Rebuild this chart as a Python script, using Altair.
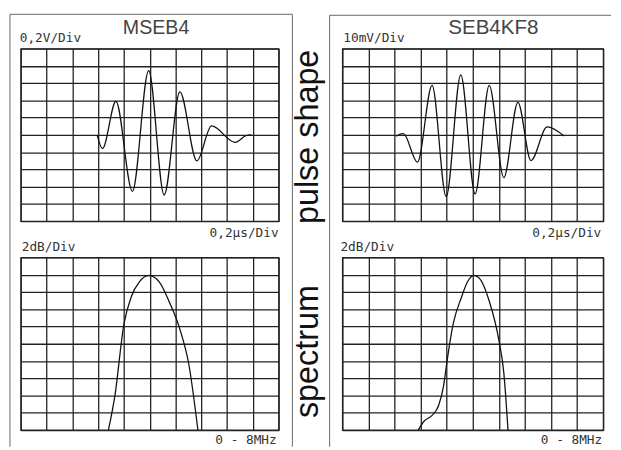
import altair as alt
import pandas as pd

# ---- data (grid divisions, 0..10 on both axes) ----
pulse_l_x = [2.96, 3.17, 3.69, 4.33, 4.96, 5.56, 6.17, 6.83, 7.40, 8.31, 8.73, 8.95]
pulse_l_y = [5.0, 4.21, 6.95, 1.73, 8.72, 1.52, 7.49, 3.49, 5.52, 4.57, 4.95, 5.0]

pulse_r_x = [2.06, 2.34, 2.88, 3.44, 3.98, 4.54, 5.09, 5.63, 6.19, 6.73, 7.23, 7.85, 8.5]
pulse_r_y = [4.93, 5.07, 3.42, 7.87, 1.42, 8.48, 1.58, 7.87, 2.52, 6.89, 3.51, 5.46, 4.93]

spec_l_x = [3.40, 3.65, 4.0, 4.29, 4.6, 4.96, 5.37, 5.75, 6.19, 6.51, 6.87]
spec_l_y = [0, 1.98, 6.13, 7.74, 8.58, 8.96, 8.58, 7.45, 5.75, 3.87, 0]

spec_r_x = [2.91, 3.13, 3.44, 3.69, 3.88, 4.03, 4.25, 4.56, 4.81, 5.04, 5.25, 5.63, 6.0, 6.19, 6.35]
spec_r_y = [0, 0.51, 0.85, 1.42, 2.56, 4.17, 6.16, 7.67, 8.62, 8.96, 8.8, 7.48, 5.21, 3.31, 0]

grid_ticks = list(range(11))

INK = "#222222"
MONO = "DejaVu Sans Mono"
SANS = "Liberation Sans"

one = pd.DataFrame({"k": [0]})


def txt(s, x, y, align="left", font=MONO, size=13, angle=0, color="#333333"):
    kw = dict(align=align, baseline="alphabetic", font=font, fontSize=size,
              color=color, text=s)
    if angle:
        kw["angle"] = angle
    return alt.Chart(one).mark_text(**kw).encode(x=alt.value(x), y=alt.value(y))


def hline(y, x1, x2):
    return alt.Chart(one).mark_rule(color="#666666", strokeWidth=1).encode(
        y=alt.value(y), x=alt.value(x1), x2=alt.value(x2))


def vline(x, y1, y2):
    return alt.Chart(one).mark_rule(color="#666666", strokeWidth=1).encode(
        x=alt.value(x), y=alt.value(y1), y2=alt.value(y2))


def panel(xs, ys, w, extra):
    df = pd.DataFrame({"x": xs, "y": ys, "o": list(range(len(xs)))})
    ax = alt.Axis(values=grid_ticks, grid=True, gridColor=INK, gridWidth=1.3,
                  gridOpacity=1, labels=False, ticks=False, domain=False, title=None)
    line = alt.Chart(df).mark_line(color="#111111", strokeWidth=1.3,
                                   interpolate="monotone", clip=True).encode(
        x=alt.X("x:Q", scale=alt.Scale(domain=[0, 10], nice=False, zero=False), axis=ax),
        y=alt.Y("y:Q", scale=alt.Scale(domain=[0, 10], nice=False, zero=False), axis=ax),
        order="o:Q",
    )
    return alt.layer(line, *extra).properties(width=w, height=176)


tl = panel(pulse_l_x, pulse_l_y, 263, [
    txt("MSEB4", 138, -15, align="center", font=SANS, size=20, color="#444444"),
    txt("0,2V/Div", -1, -7),
    txt("0,2µs/Div", 263, 192, align="right"),
    vline(-11, -35, 406),
    hline(-35, -11, 277),
    vline(277, -35, 406),
    txt("pulse shape", 303, 90, align="center", font=SANS, size=33, angle=270, color="#111111"),
])

bl = panel(spec_l_x, spec_l_y, 263, [
    txt("2dB/Div", 1, -7),
    txt("0 - 8MHz", 261, 190, align="right"),
    txt("spectrum", 303, 96, align="center", font=SANS, size=33, angle=270, color="#111111"),
])

tr = panel(pulse_r_x, pulse_r_y, 266, [
    txt("SEB4KF8", 154, -15, align="center", font=SANS, size=21, color="#444444"),
    txt("10mV/Div", 1, -7),
    txt("0,2µs/Div", 264, 192, align="right"),
    vline(-13, -34, 406),
    hline(-34, -13, 274),
])

br = panel(spec_r_x, spec_r_y, 266, [
    txt("2dB/Div", -2, -7),
    txt("0 - 8MHz", 265, 190, align="right"),
])

chart = alt.concat(tl, tr, bl, br, columns=2,
                   spacing={"row": 37, "column": 65}, bounds="flush").properties(
    padding=0, background="white"
).configure_view(stroke=INK, strokeWidth=1.3)

chart.save("out.html", embed_options={"renderer": "svg", "actions": False})
